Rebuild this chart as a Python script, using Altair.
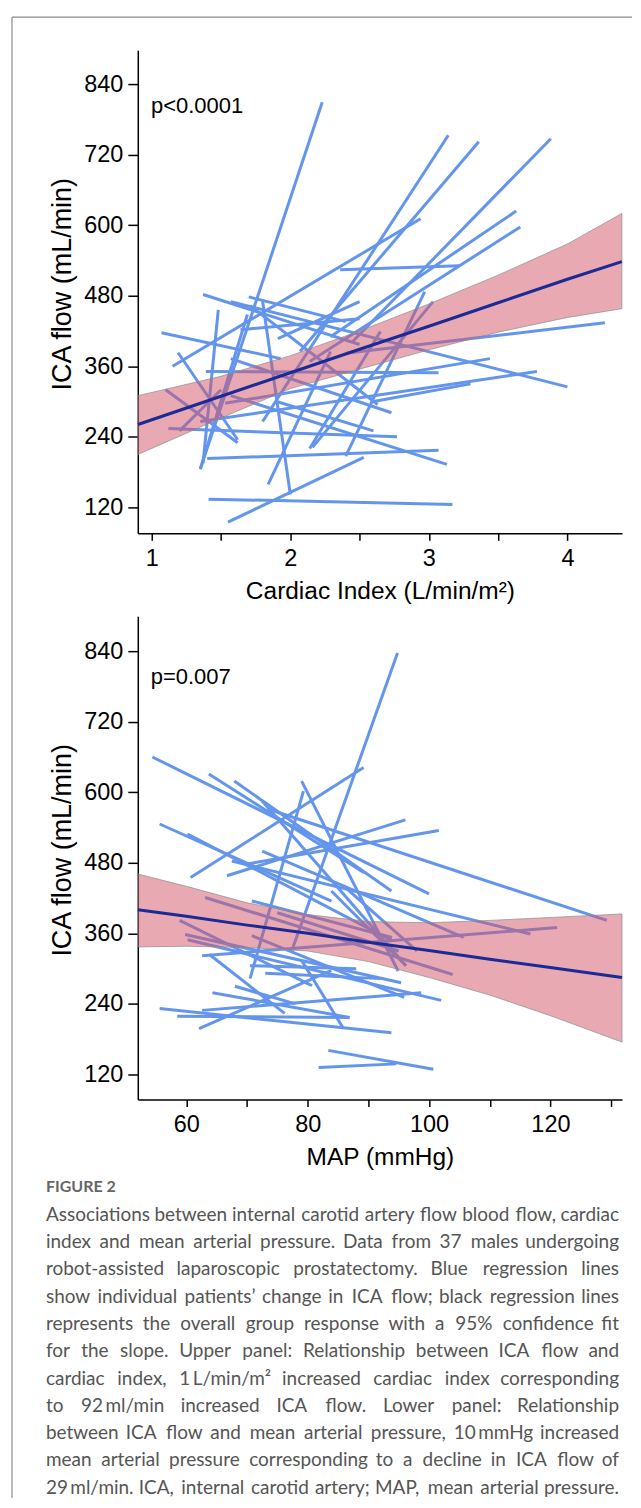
import altair as alt
import pandas as pd

# ---------------- Upper panel: ICA flow vs Cardiac index ----------------
top_x0 = [2.23, 3.14, 3.36, 3.88, 3.63, 3.66, 2.36, 2.94, 1.07, 1.37, 1.70, 1.19, 1.48, 1.12, 1.40, 1.41, 1.55, 1.39, 1.53,
          1.35, 1.57, 2.40, 1.71, 1.57, 2.16, 2.40, 1.57, 1.35, 1.84, 1.80, 2.14, 1.10, 1.64, 1.91, 1.90, 1.20, 2.60]
top_y0 = [809, 753, 742, 747, 624, 597, 524, 611, 417, 482, 478, 383, 456, 254, 203, 134, 95, 351, 297,
          266, 470, 382, 463, 373, 222, 207, 310, 185, 159, 470, 220, 320, 422, 407, 300, 250, 300]
top_x1 = [1.35, 1.80, 2.07, 2.45, 2.29, 2.14, 3.22, 1.15, 1.93, 2.50, 2.40, 1.62, 1.37, 2.77, 3.07, 3.17, 2.53, 3.07, 3.44,
          3.78, 4.00, 4.27, 2.63, 2.73, 3.03, 2.97, 3.13, 1.69, 2.29, 2.00, 2.65, 1.62, 2.50, 2.50, 2.60, 1.50, 3.30]
top_y1 = [185, 266, 385, 402, 410, 368, 531, 360, 373, 397, 436, 235, 195, 240, 217, 125, 205, 349, 373,
          351, 325, 434, 295, 281, 470, 487, 193, 448, 385, 142, 419, 230, 441, 470, 250, 320, 330]

top_band_x = [0.9, 1.5, 2.0, 2.5, 3.0, 3.5, 4.0, 4.393]
top_fit = [261, 309, 349, 389, 428, 468, 508, 538]
top_hi = [310, 343, 378, 420, 466, 515, 568, 620]
top_lo = [210, 272, 322, 355, 388, 418, 443, 458]

# ---------------- Lower panel: ICA flow vs MAP ----------------
bot_x0 = [94.8, 54.4, 63.7, 67.9, 73.3, 60.2, 55.6, 79.3, 60.7, 70.0, 66.7, 55.6, 58.5, 62.1, 64.3, 63.8, 58.9, 59.8, 60.2,
          63.1, 81.8, 83.4, 67.5, 72.5, 62.6, 70.8, 62.6, 70.8, 83.9, 79.0, 79.0, 72.5, 70.5, 73.0, 68.0, 75.0, 86.0]
bot_y0 = [837, 660, 631, 619, 572, 529, 546, 602, 455, 478, 458, 232, 219, 198, 259, 324, 382, 358, 349,
          421, 132, 161, 483, 500, 322, 415, 229, 356, 432, 314, 619, 585, 305, 292, 270, 395, 440]
bot_x1 = [77.4, 100.0, 89.3, 93.8, 129.3, 93.8, 83.9, 70.5, 89.2, 101.6, 96.1, 93.8, 86.9, 83.9, 86.9, 76.2, 80.7, 95.4, 102.0,
          103.9, 94.6, 100.7, 116.7, 105.7, 121.1, 93.9, 98.7, 95.9, 96.2, 85.9, 94.9, 96.2, 88.0, 92.0, 78.0, 95.0, 98.0]
bot_y1 = [331, 427, 463, 432, 382, 348, 415, 283, 642, 535, 553, 191, 217, 297, 217, 224, 271, 276, 246,
          290, 138, 129, 359, 353, 370, 353, 259, 251, 305, 198, 296, 305, 300, 283, 240, 330, 330]

bot_band_x = [52.0, 60, 70, 80, 90, 100, 110, 120, 131.8]
bot_fit = [400, 389, 374, 360, 345, 331, 316, 302, 285]
bot_hi = [461, 440, 412, 392, 380, 378, 382, 387, 393]
bot_lo = [337, 338, 336, 330, 312, 285, 255, 220, 175]

y_ticks = [120, 240, 360, 480, 600, 720, 840]
top_x_ticks = [1, 1.5, 2, 2.5, 3, 3.5, 4]
bot_x_ticks = [60, 70, 80, 90, 100, 110, 120, 130]

caption_head = "FIGURE 2"
caption_lines = [
    "Associations between internal carotid artery flow blood flow, cardiac",
    "index and mean arterial pressure. Data from 37 males undergoing",
    "robot-assisted laparoscopic prostatectomy. Blue regression lines",
    "show individual patients\u2019 change in ICA flow; black regression lines",
    "represents the overall group response with a 95% confidence fit",
    "for the slope. Upper panel: Relationship between ICA flow and",
    "cardiac index, 1\u2009L/min/m\u00b2 increased cardiac index corresponding",
    "to 92\u2009ml/min increased ICA flow. Lower panel: Relationship",
    "between ICA flow and mean arterial pressure, 10\u2009mmHg increased",
    "mean arterial pressure corresponding to a decline in ICA flow of",
    "29\u2009ml/min. ICA, internal carotid artery; MAP, mean arterial pressure.",
]

FONT = "Liberation Sans"
CAP_FONT = "Lato"
CAP_SIZE = 19
CAP_LEFT = -92      # caption block left edge, relative to the plot column
CAP_WIDTH = 574     # justified block width

# approximate Lato advance widths (em) used to spread words for justification
_W = dict(zip("abcdefghijklmnopqrstuvwxyz",
              [.49, .55, .45, .55, .51, .31, .49, .55, .24, .24, .50, .24, .82, .55, .55, .55, .55, .36, .42, .34,
               .55, .49, .75, .48, .49, .44]))
_W.update(dict(zip("ABCDEFGHIJKLMNOPQRSTUVWXYZ",
                   [.68, .63, .66, .74, .55, .53, .72, .75, .29, .39, .66, .49, .91, .75, .79, .59, .79, .62, .53, .59,
                    .72, .68, 1.0, .66, .62, .62])))
_W.update({d: .58 for d in "0123456789"})
_W.update({".": .21, ",": .21, ";": .22, ":": .22, "-": .33, "/": .36, "%": .77, "\u2019": .2,
           "\u00b2": .36, "\u2009": .1, "(": .3, ")": .3})


def word_width(w):
    return sum(_W.get(ch, .5) for ch in w) * CAP_SIZE


def justify(lines):
    rows, last_rows = [], []
    for li, line in enumerate(lines, start=1):
        words = line.split(" ")
        widths = [word_width(w) for w in words]
        gap = (CAP_WIDTH - sum(widths)) / (len(words) - 1)
        pos = CAP_LEFT
        for k, (w, ww) in enumerate(zip(words, widths)):
            if k == len(words) - 1:
                last_rows.append({"i": li, "t": w, "px": CAP_LEFT + CAP_WIDTH})
            else:
                rows.append({"i": li, "t": w, "px": pos})
            pos += ww + gap
    return pd.DataFrame(rows), pd.DataFrame(last_rows)


def seg_df(x0, y0, x1, y1):
    rows = []
    for i, (a, b, c, d) in enumerate(zip(x0, y0, x1, y1)):
        rows.append({"id": i, "x": a, "y": b})
        rows.append({"id": i, "x": c, "y": d})
    return pd.DataFrame(rows)


def panel(seg, band, xdom, ydom, xvals, label_expr, xtitle, ptext, pxy, border=False):
    xs = alt.Scale(domain=xdom, nice=False, zero=False)
    ys = alt.Scale(domain=ydom, nice=False, zero=False)
    xaxis = alt.Axis(values=xvals, labelExpr=label_expr, title=xtitle, grid=False,
                     tickSize=7, labelPadding=18, labelBaseline="middle",
                     titleX=242.5, titleY=58, titleBaseline="middle", labelOverlap=False,
                     titleFontSize=24.5)
    yaxis = alt.Axis(values=y_ticks, title="ICA flow (mL/min)", grid=False, tickSize=10,
                     labelPadding=5, titleX=-75, titleY=234, titleBaseline="middle", titleAngle=-90,
                     titleFontSize=27)
    lines = alt.Chart(seg).mark_line(color="#6495ED", strokeWidth=3, clip=True).encode(
        x=alt.X("x:Q", scale=xs, axis=xaxis),
        y=alt.Y("y:Q", scale=ys, axis=yaxis),
        detail="id:N",
    )
    area = alt.Chart(band).mark_area(color="#D15367", fillOpacity=0.5, stroke="#8c8c8c",
                                     strokeOpacity=0.7, strokeWidth=1).encode(
        x="x:Q", y="lo:Q", y2="hi:Q")
    fit = alt.Chart(band).mark_line(color="#1C2A96", strokeWidth=3).encode(x="x:Q", y="fit:Q")
    ptxt = alt.Chart(pd.DataFrame({"x": [pxy[0]], "y": [pxy[1]], "t": [ptext]})).mark_text(
        align="left", baseline="middle", font=FONT, fontSize=22, color="black").encode(
        x="x:Q", y="y:Q", text="t:N")
    layers = [lines, area, fit, ptxt]
    if border:
        one = pd.DataFrame({"a": [0]})
        vline = alt.Chart(one).mark_rule(color="#8a8a8a", strokeWidth=1.2).encode(
            x=alt.value(-126), y=alt.value(-33), y2=alt.value(1450))
        hline = alt.Chart(one).mark_rule(color="#8a8a8a", strokeWidth=1.2).encode(
            x=alt.value(-126), x2=alt.value(495), y=alt.value(-33))
        layers = [vline, hline] + layers
    return alt.layer(*layers).properties(width=485, height=484)


top_band = pd.DataFrame({"x": top_band_x, "fit": top_fit, "hi": top_hi, "lo": top_lo})
bot_band = pd.DataFrame({"x": bot_band_x, "fit": bot_fit, "hi": bot_hi, "lo": bot_lo})

top = panel(seg_df(top_x0, top_y0, top_x1, top_y1), top_band, [0.899, 4.394], [75.8, 897.7],
            top_x_ticks, "datum.value % 1 == 0 ? format(datum.value, 'd') : ''",
            "Cardiac Index (L/min/m\u00b2)", "p<0.0001", (0.994, 802.6), border=True)
bottom = panel(seg_df(bot_x0, bot_y0, bot_x1, bot_y1), bot_band, [52.0, 131.8], [77.5, 899.4],
               bot_x_ticks, "datum.value % 20 == 0 ? format(datum.value, 'd') : ''",
               "MAP (mmHg)", "p=0.007", (54.14, 795.8))

words_df, last_df = justify(caption_lines)
head_df = pd.DataFrame({"i": [0], "t": [caption_head]})
cy = alt.Scale(domain=[0, 11], range=[5, 306])
cap_words = alt.Chart(words_df).mark_text(align="left", baseline="middle", font=CAP_FONT,
                                          fontSize=CAP_SIZE, color="#555555").encode(
    x=alt.X("px:Q", scale=None, axis=None), y=alt.Y("i:Q", scale=cy, axis=None), text="t:N")
cap_last = alt.Chart(last_df).mark_text(align="right", baseline="middle", font=CAP_FONT,
                                        fontSize=CAP_SIZE, color="#555555").encode(
    x=alt.X("px:Q", scale=None, axis=None), y=alt.Y("i:Q", scale=cy, axis=None), text="t:N")
head_text = alt.Chart(head_df).mark_text(align="left", baseline="middle", font=CAP_FONT, fontSize=16,
                                         fontWeight="bold", color="#666666").encode(
    x=alt.value(CAP_LEFT), y=alt.Y("i:Q", scale=cy, axis=None), text="t:N")
caption = alt.layer(cap_words, cap_last, head_text).properties(width=485, height=310)

chart = alt.vconcat(top, bottom, caption, spacing=83, bounds="flush").properties(
    padding={"left": 3, "top": 7, "right": 0, "bottom": 0}
).configure_view(stroke=None).configure_axis(
    domainColor="black", domainWidth=1.5, tickColor="black", tickWidth=1.5,
    labelFont=FONT, labelFontSize=23.5, labelColor="black",
    titleFont=FONT, titleFontSize=23, titleFontWeight="normal", titleColor="black",
)

chart.save("out.html", embed_options={"renderer": "svg", "actions": False})
